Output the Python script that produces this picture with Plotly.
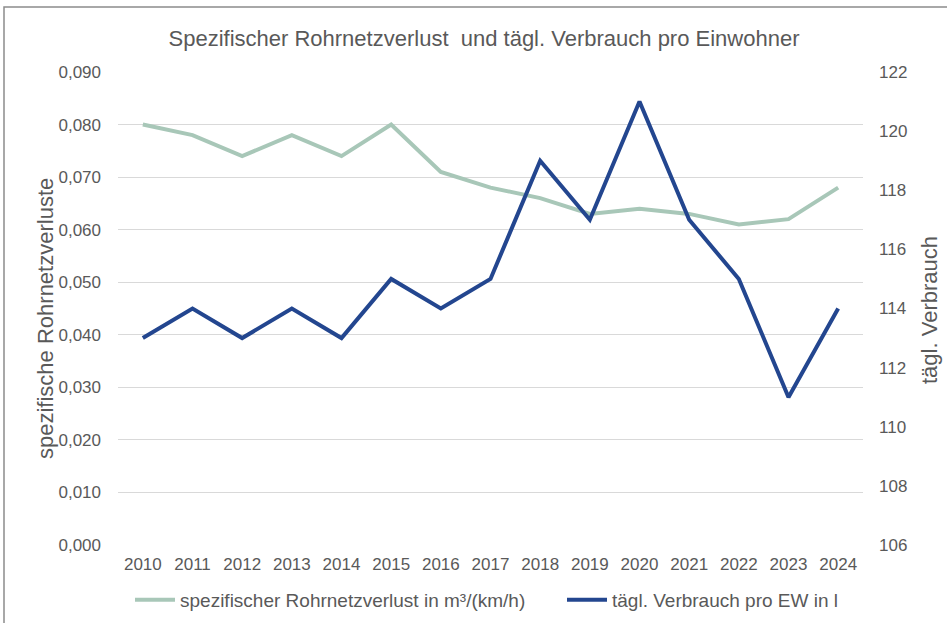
import plotly.graph_objects as go

years = ["2010", "2011", "2012", "2013", "2014", "2015", "2016", "2017",
         "2018", "2019", "2020", "2021", "2022", "2023", "2024"]
rohrnetzverlust = [0.080, 0.078, 0.074, 0.078, 0.074, 0.080, 0.071, 0.068,
                   0.066, 0.063, 0.064, 0.063, 0.061, 0.062, 0.068]
verbrauch = [113, 114, 113, 114, 113, 115, 114, 115,
             119, 117, 121, 117, 115, 111, 114]

left_ticks = [0.0, 0.01, 0.02, 0.03, 0.04, 0.05, 0.06, 0.07, 0.08, 0.09]
right_ticks = [106, 108, 110, 112, 114, 116, 118, 120, 122]

W, H = 947, 623
ML, MR, MT, MB = 118, 84, 72, 78
PW, PH = W - ML - MR, H - MT - MB

txt = "#595959"
font = "Liberation Sans, Arial, sans-serif"

fig = go.Figure()
fig.add_trace(go.Scatter(
    x=years, y=rohrnetzverlust, mode="lines",
    name="spezifischer Rohrnetzverlust in m³/(km/h)",
    line=dict(color="#A8C7B8", width=4), yaxis="y", legend="legend"))
fig.add_trace(go.Scatter(
    x=years, y=verbrauch, mode="lines",
    name="tägl. Verbrauch pro EW in l",
    line=dict(color="#23468F", width=4), yaxis="y2", legend="legend2"))

def px_x(p):
    return (p - ML) / PW

def px_y(p):
    return (H - MB - p) / PH

legend_common = dict(orientation="h", xanchor="left", xref="container",
                     y=1 - 600 / H, yref="container", yanchor="middle",
                     font=dict(size=19, color=txt), itemwidth=40,
                     bgcolor="rgba(0,0,0,0)")

fig.update_layout(
    width=W, height=H,
    margin=dict(l=ML, r=MR, t=MT, b=MB, autoexpand=False),
    paper_bgcolor="white", plot_bgcolor="white",
    font=dict(family=font, color=txt, size=17),
    separators=",.",
    title=dict(text="Spezifischer Rohrnetzverlust  und tägl. Verbrauch pro Einwohner",
               x=484 / W, xref="container", xanchor="center",
               y=1 - 38 / H, yanchor="middle", yref="container",
               font=dict(size=22, color=txt)),
    xaxis=dict(type="category", range=[-0.5, len(years) - 0.5],
               showgrid=False, showline=False, zeroline=False,
               ticks="", ticklabelstandoff=7,
               tickfont=dict(size=17, color=txt)),
    yaxis=dict(range=[0, 0.09], tickvals=left_ticks, tickformat=".3f",
               showgrid=True, gridcolor="#D9D9D9", gridwidth=1, zeroline=False,
               showline=False, ticks="", ticklabelstandoff=16,
               tickfont=dict(size=17, color=txt)),
    yaxis2=dict(range=[106, 122], tickvals=right_ticks, overlaying="y", side="right",
                showgrid=False, zeroline=False, showline=False, ticks="",
                ticklabelstandoff=15,
                tickfont=dict(size=17, color=txt)),
    legend=dict(x=130 / W, **legend_common),
    legend2=dict(x=562 / W, **legend_common),
    showlegend=True,
    annotations=[
        dict(text="spezifische Rohrnetzverluste", xref="paper", yref="paper",
             x=px_x(45), y=px_y(319), xanchor="center", yanchor="middle",
             textangle=-90, showarrow=False, font=dict(size=22, color=txt)),
        dict(text="tägl. Verbrauch", xref="paper", yref="paper",
             x=px_x(929), y=px_y(310), xanchor="center", yanchor="middle",
             textangle=-90, showarrow=False, font=dict(size=22, color=txt)),
    ],
    shapes=[dict(type="rect", xref="paper", yref="paper",
                 x0=px_x(4), x1=px_x(990), y0=px_y(660), y1=px_y(7),
                 line=dict(color="#8C8C8C", width=1.5), fillcolor="rgba(0,0,0,0)",
                 layer="below")],
)

fig.write_html("out.html", config={"displayModeBar": False},
               post_script="document.body.style.margin='0';")
